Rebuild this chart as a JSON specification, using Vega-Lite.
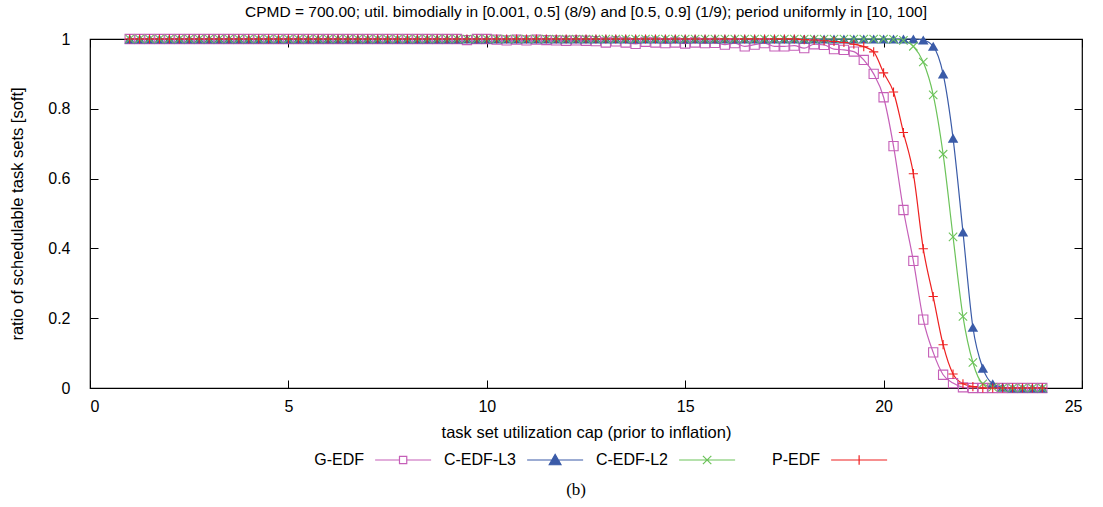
{
  "$schema": "https://vega.github.io/schema/vega-lite/v6.json",
  "autosize": {"type": "none"},
  "padding": {"left": 90, "top": 39, "right": 21, "bottom": 119},
  "width": 992,
  "height": 349,
  "title": {
    "text": "CPMD = 700.00; util. bimodially in [0.001, 0.5] (8/9) and [0.5, 0.9] (1/9); period uniformly in [10, 100]",
    "font": "Liberation Sans",
    "fontSize": 15.5,
    "fontWeight": "normal",
    "color": "#000000",
    "anchor": "middle",
    "offset": 11
  },
  "config": {
    "view": {"stroke": "#000000", "strokeWidth": 1.2},
    "axis": {
      "grid": false,
      "domain": false,
      "tickColor": "#000000",
      "tickSize": -8,
      "tickWidth": 1,
      "labelFont": "Liberation Sans",
      "labelFontSize": 16,
      "labelColor": "#000000",
      "titleFont": "Liberation Sans",
      "titleFontSize": 16.5,
      "titleFontWeight": "normal",
      "titleColor": "#000000"
    },
    "legend": {
      "labelFont": "Liberation Sans",
      "labelFontSize": 16,
      "labelColor": "#000000",
      "layout": {"bottom": {"anchor": "middle"}}
    }
  },
  "data": {
    "values": [
      {"x": 1, "G-EDF": 1, "C-EDF-L3": 1, "C-EDF-L2": 1, "P-EDF": 1},
      {"x": 1.25, "G-EDF": 1, "C-EDF-L3": 1, "C-EDF-L2": 1, "P-EDF": 1},
      {"x": 1.5, "G-EDF": 1, "C-EDF-L3": 1, "C-EDF-L2": 1, "P-EDF": 1},
      {"x": 1.75, "G-EDF": 1, "C-EDF-L3": 1, "C-EDF-L2": 1, "P-EDF": 1},
      {"x": 2, "G-EDF": 1, "C-EDF-L3": 1, "C-EDF-L2": 1, "P-EDF": 1},
      {"x": 2.25, "G-EDF": 1, "C-EDF-L3": 1, "C-EDF-L2": 1, "P-EDF": 1},
      {"x": 2.5, "G-EDF": 1, "C-EDF-L3": 1, "C-EDF-L2": 1, "P-EDF": 1},
      {"x": 2.75, "G-EDF": 1, "C-EDF-L3": 1, "C-EDF-L2": 1, "P-EDF": 1},
      {"x": 3, "G-EDF": 1, "C-EDF-L3": 1, "C-EDF-L2": 1, "P-EDF": 1},
      {"x": 3.25, "G-EDF": 1, "C-EDF-L3": 1, "C-EDF-L2": 1, "P-EDF": 1},
      {"x": 3.5, "G-EDF": 1, "C-EDF-L3": 1, "C-EDF-L2": 1, "P-EDF": 1},
      {"x": 3.75, "G-EDF": 1, "C-EDF-L3": 1, "C-EDF-L2": 1, "P-EDF": 1},
      {"x": 4, "G-EDF": 1, "C-EDF-L3": 1, "C-EDF-L2": 1, "P-EDF": 1},
      {"x": 4.25, "G-EDF": 1, "C-EDF-L3": 1, "C-EDF-L2": 1, "P-EDF": 1},
      {"x": 4.5, "G-EDF": 1, "C-EDF-L3": 1, "C-EDF-L2": 1, "P-EDF": 1},
      {"x": 4.75, "G-EDF": 1, "C-EDF-L3": 1, "C-EDF-L2": 1, "P-EDF": 1},
      {"x": 5, "G-EDF": 1, "C-EDF-L3": 1, "C-EDF-L2": 1, "P-EDF": 1},
      {"x": 5.25, "G-EDF": 1, "C-EDF-L3": 1, "C-EDF-L2": 1, "P-EDF": 1},
      {"x": 5.5, "G-EDF": 1, "C-EDF-L3": 1, "C-EDF-L2": 1, "P-EDF": 1},
      {"x": 5.75, "G-EDF": 1, "C-EDF-L3": 1, "C-EDF-L2": 1, "P-EDF": 1},
      {"x": 6, "G-EDF": 1, "C-EDF-L3": 1, "C-EDF-L2": 1, "P-EDF": 1},
      {"x": 6.25, "G-EDF": 1, "C-EDF-L3": 1, "C-EDF-L2": 1, "P-EDF": 1},
      {"x": 6.5, "G-EDF": 1, "C-EDF-L3": 1, "C-EDF-L2": 1, "P-EDF": 1},
      {"x": 6.75, "G-EDF": 1, "C-EDF-L3": 1, "C-EDF-L2": 1, "P-EDF": 1},
      {"x": 7, "G-EDF": 1, "C-EDF-L3": 1, "C-EDF-L2": 1, "P-EDF": 1},
      {"x": 7.25, "G-EDF": 1, "C-EDF-L3": 1, "C-EDF-L2": 1, "P-EDF": 1},
      {"x": 7.5, "G-EDF": 1, "C-EDF-L3": 1, "C-EDF-L2": 1, "P-EDF": 1},
      {"x": 7.75, "G-EDF": 1, "C-EDF-L3": 1, "C-EDF-L2": 1, "P-EDF": 1},
      {"x": 8, "G-EDF": 1, "C-EDF-L3": 1, "C-EDF-L2": 1, "P-EDF": 1},
      {"x": 8.25, "G-EDF": 1, "C-EDF-L3": 1, "C-EDF-L2": 1, "P-EDF": 1},
      {"x": 8.5, "G-EDF": 1, "C-EDF-L3": 1, "C-EDF-L2": 1, "P-EDF": 1},
      {"x": 8.75, "G-EDF": 1, "C-EDF-L3": 1, "C-EDF-L2": 1, "P-EDF": 1},
      {"x": 9, "G-EDF": 1, "C-EDF-L3": 1, "C-EDF-L2": 1, "P-EDF": 1},
      {"x": 9.25, "G-EDF": 1, "C-EDF-L3": 1, "C-EDF-L2": 1, "P-EDF": 1},
      {"x": 9.5, "G-EDF": 0.997, "C-EDF-L3": 1, "C-EDF-L2": 1, "P-EDF": 1},
      {"x": 9.75, "G-EDF": 1, "C-EDF-L3": 1, "C-EDF-L2": 1, "P-EDF": 1},
      {"x": 10, "G-EDF": 1, "C-EDF-L3": 1, "C-EDF-L2": 1, "P-EDF": 1},
      {"x": 10.25, "G-EDF": 0.998, "C-EDF-L3": 1, "C-EDF-L2": 1, "P-EDF": 1},
      {"x": 10.5, "G-EDF": 0.996, "C-EDF-L3": 1, "C-EDF-L2": 1, "P-EDF": 1},
      {"x": 10.75, "G-EDF": 0.998, "C-EDF-L3": 1, "C-EDF-L2": 1, "P-EDF": 1},
      {"x": 11, "G-EDF": 0.996, "C-EDF-L3": 1, "C-EDF-L2": 1, "P-EDF": 1},
      {"x": 11.25, "G-EDF": 0.998, "C-EDF-L3": 1, "C-EDF-L2": 1, "P-EDF": 1},
      {"x": 11.5, "G-EDF": 0.997, "C-EDF-L3": 1, "C-EDF-L2": 1, "P-EDF": 1},
      {"x": 11.75, "G-EDF": 0.996, "C-EDF-L3": 1, "C-EDF-L2": 1, "P-EDF": 1},
      {"x": 12, "G-EDF": 0.995, "C-EDF-L3": 1, "C-EDF-L2": 1, "P-EDF": 1},
      {"x": 12.25, "G-EDF": 0.996, "C-EDF-L3": 1, "C-EDF-L2": 1, "P-EDF": 1},
      {"x": 12.5, "G-EDF": 0.995, "C-EDF-L3": 1, "C-EDF-L2": 1, "P-EDF": 1},
      {"x": 12.75, "G-EDF": 0.994, "C-EDF-L3": 1, "C-EDF-L2": 1, "P-EDF": 1},
      {"x": 13, "G-EDF": 0.99, "C-EDF-L3": 1, "C-EDF-L2": 1, "P-EDF": 1},
      {"x": 13.25, "G-EDF": 0.993, "C-EDF-L3": 1, "C-EDF-L2": 1, "P-EDF": 1},
      {"x": 13.5, "G-EDF": 0.99, "C-EDF-L3": 1, "C-EDF-L2": 1, "P-EDF": 1},
      {"x": 13.75, "G-EDF": 0.986, "C-EDF-L3": 1, "C-EDF-L2": 1, "P-EDF": 1},
      {"x": 14, "G-EDF": 0.992, "C-EDF-L3": 1, "C-EDF-L2": 1, "P-EDF": 1},
      {"x": 14.25, "G-EDF": 0.99, "C-EDF-L3": 1, "C-EDF-L2": 1, "P-EDF": 1},
      {"x": 14.5, "G-EDF": 0.988, "C-EDF-L3": 1, "C-EDF-L2": 1, "P-EDF": 1},
      {"x": 14.75, "G-EDF": 0.99, "C-EDF-L3": 1, "C-EDF-L2": 1, "P-EDF": 1},
      {"x": 15, "G-EDF": 0.987, "C-EDF-L3": 1, "C-EDF-L2": 1, "P-EDF": 1},
      {"x": 15.25, "G-EDF": 0.99, "C-EDF-L3": 1, "C-EDF-L2": 1, "P-EDF": 1},
      {"x": 15.5, "G-EDF": 0.988, "C-EDF-L3": 1, "C-EDF-L2": 1, "P-EDF": 1},
      {"x": 15.75, "G-EDF": 0.989, "C-EDF-L3": 1, "C-EDF-L2": 1, "P-EDF": 1},
      {"x": 16, "G-EDF": 0.984, "C-EDF-L3": 1, "C-EDF-L2": 1, "P-EDF": 1},
      {"x": 16.25, "G-EDF": 0.988, "C-EDF-L3": 1, "C-EDF-L2": 1, "P-EDF": 1},
      {"x": 16.5, "G-EDF": 0.979, "C-EDF-L3": 1, "C-EDF-L2": 1, "P-EDF": 1},
      {"x": 16.75, "G-EDF": 0.984, "C-EDF-L3": 1, "C-EDF-L2": 1, "P-EDF": 1},
      {"x": 17, "G-EDF": 0.988, "C-EDF-L3": 1, "C-EDF-L2": 1, "P-EDF": 1},
      {"x": 17.25, "G-EDF": 0.979, "C-EDF-L3": 1, "C-EDF-L2": 1, "P-EDF": 1},
      {"x": 17.5, "G-EDF": 0.979, "C-EDF-L3": 1, "C-EDF-L2": 1, "P-EDF": 1},
      {"x": 17.75, "G-EDF": 0.981, "C-EDF-L3": 1, "C-EDF-L2": 1, "P-EDF": 1},
      {"x": 18, "G-EDF": 0.974, "C-EDF-L3": 1, "C-EDF-L2": 1, "P-EDF": 0.998},
      {"x": 18.25, "G-EDF": 0.985, "C-EDF-L3": 1, "C-EDF-L2": 1, "P-EDF": 0.997},
      {"x": 18.5, "G-EDF": 0.983, "C-EDF-L3": 1, "C-EDF-L2": 1, "P-EDF": 0.995},
      {"x": 18.75, "G-EDF": 0.971, "C-EDF-L3": 1, "C-EDF-L2": 1, "P-EDF": 0.993},
      {"x": 19, "G-EDF": 0.969, "C-EDF-L3": 1, "C-EDF-L2": 1, "P-EDF": 0.99},
      {"x": 19.25, "G-EDF": 0.964, "C-EDF-L3": 1, "C-EDF-L2": 1, "P-EDF": 0.985},
      {"x": 19.5, "G-EDF": 0.94, "C-EDF-L3": 1, "C-EDF-L2": 1, "P-EDF": 0.978},
      {"x": 19.75, "G-EDF": 0.9, "C-EDF-L3": 1, "C-EDF-L2": 1, "P-EDF": 0.963},
      {"x": 20, "G-EDF": 0.833, "C-EDF-L3": 1, "C-EDF-L2": 1, "P-EDF": 0.903},
      {"x": 20.25, "G-EDF": 0.693, "C-EDF-L3": 1, "C-EDF-L2": 0.999, "P-EDF": 0.848},
      {"x": 20.5, "G-EDF": 0.51, "C-EDF-L3": 1, "C-EDF-L2": 0.996, "P-EDF": 0.732},
      {"x": 20.75, "G-EDF": 0.364, "C-EDF-L3": 1, "C-EDF-L2": 0.979, "P-EDF": 0.614},
      {"x": 21, "G-EDF": 0.196, "C-EDF-L3": 0.997, "C-EDF-L2": 0.934, "P-EDF": 0.399},
      {"x": 21.25, "G-EDF": 0.102, "C-EDF-L3": 0.979, "C-EDF-L2": 0.84, "P-EDF": 0.262},
      {"x": 21.5, "G-EDF": 0.038, "C-EDF-L3": 0.9, "C-EDF-L2": 0.67, "P-EDF": 0.124},
      {"x": 21.75, "G-EDF": 0.014, "C-EDF-L3": 0.716, "C-EDF-L2": 0.433, "P-EDF": 0.04},
      {"x": 22, "G-EDF": 0.002, "C-EDF-L3": 0.447, "C-EDF-L2": 0.205, "P-EDF": 0.012},
      {"x": 22.25, "G-EDF": 0, "C-EDF-L3": 0.174, "C-EDF-L2": 0.073, "P-EDF": 0.004},
      {"x": 22.5, "G-EDF": 0, "C-EDF-L3": 0.057, "C-EDF-L2": 0.012, "P-EDF": 0},
      {"x": 22.75, "G-EDF": 0, "C-EDF-L3": 0.012, "C-EDF-L2": 0.002, "P-EDF": 0},
      {"x": 23, "G-EDF": 0, "C-EDF-L3": 0.002, "C-EDF-L2": 0, "P-EDF": 0},
      {"x": 23.25, "G-EDF": 0, "C-EDF-L3": 0, "C-EDF-L2": 0, "P-EDF": 0},
      {"x": 23.5, "G-EDF": 0, "C-EDF-L3": 0, "C-EDF-L2": 0, "P-EDF": 0},
      {"x": 23.75, "G-EDF": 0, "C-EDF-L3": 0, "C-EDF-L2": 0, "P-EDF": 0},
      {"x": 24, "G-EDF": 0, "C-EDF-L3": 0, "C-EDF-L2": 0, "P-EDF": 0}
    ]
  },
  "transform": [
    {"fold": ["G-EDF", "C-EDF-L3", "C-EDF-L2", "P-EDF"], "as": ["series", "ratio"]}
  ],
  "resolve": {"axis": {"x": "independent", "y": "independent"}},
  "layer": [
    {
      "mark": {"type": "line", "interpolate": "monotone", "strokeWidth": 1.2},
      "encoding": {
        "x": {
          "field": "x", "type": "quantitative",
          "scale": {"domain": [0, 25], "nice": false},
          "axis": {"orient": "bottom", "values": [0, 5, 10, 15, 20, 25], "title": "task set utilization cap (prior to inflation)", "labelPadding": 18, "titlePadding": 10}
        },
        "y": {
          "field": "ratio", "type": "quantitative",
          "scale": {"domain": [0, 1], "nice": false},
          "axis": {"orient": "left", "values": [0, 0.2, 0.4, 0.6, 0.8, 1], "format": "~g", "title": "ratio of schedulable task sets [soft]", "labelPadding": 28, "titlePadding": 22}
        },
        "color": {
          "field": "series", "type": "nominal",
          "scale": {"domain": ["G-EDF", "C-EDF-L3", "C-EDF-L2", "P-EDF"], "range": ["#c55fb8", "#3a5ba8", "#6cc35a", "#ee2020"]},
          "legend": {
            "orient": "bottom",
            "direction": "horizontal",
            "title": "(b)",
            "titleOrient": "bottom",
            "titleAnchor": "middle",
            "titleAlign": "right",
            "titleFont": "Liberation Serif",
            "titleFontSize": 17,
            "titleFontWeight": "normal",
            "titleColor": "#000000",
            "titlePadding": 14,
            "symbolSize": 3136,
            "symbolStrokeWidth": 1.2,
            "gridAlign": "all",
            "columnPadding": 0,
            "labelAlign": "right",
            "labelOffset": 24,
            "offset": -10,
            "encode": {
              "symbols": {
                "update": {
                  "shape": {"signal": "datum.value === 'G-EDF' ? 'M2.29,0H3.16M3.42,0H4.29M3.16,-0.13H3.42V0.13H3.16Z' : datum.value === 'C-EDF-L3' ? 'M2.29,0H4.29M3.29,-0.2L3.5,0.17H3.08Z' : datum.value === 'C-EDF-L2' ? 'M2.29,0H4.29M3.14,-0.15L3.44,0.15M3.14,0.15L3.44,-0.15' : 'M2.29,0H4.29M3.29,-0.17V0.17'"},
                  "fill": {"signal": "datum.value === 'C-EDF-L3' ? '#3a5ba8' : 'transparent'"},
                  "strokeWidth": {"value": 1.2}
                }
              }
            }
          }
        }
      }
    },
    {
      "transform": [{"filter": "datum.series === 'G-EDF'"}],
      "mark": {"type": "point", "shape": "square", "filled": false, "size": 85, "strokeWidth": 1.1, "opacity": 1, "color": "#c55fb8"},
      "encoding": {
        "x": {"field": "x", "type": "quantitative", "axis": null},
        "y": {"field": "ratio", "type": "quantitative", "axis": null}
      }
    },
    {
      "transform": [{"filter": "datum.series === 'C-EDF-L3'"}],
      "mark": {"type": "point", "shape": "triangle-up", "filled": true, "size": 110, "opacity": 1, "color": "#3a5ba8"},
      "encoding": {
        "x": {"field": "x", "type": "quantitative", "axis": null},
        "y": {"field": "ratio", "type": "quantitative", "axis": null}
      }
    },
    {
      "transform": [{"filter": "datum.series === 'C-EDF-L2'"}],
      "mark": {"type": "point", "shape": "M-1,-1L1,1M-1,1L1,-1", "filled": false, "size": 70, "strokeWidth": 1.1, "opacity": 1, "color": "#6cc35a"},
      "encoding": {
        "x": {"field": "x", "type": "quantitative", "axis": null},
        "y": {"field": "ratio", "type": "quantitative", "axis": null}
      }
    },
    {
      "transform": [{"filter": "datum.series === 'P-EDF'"}],
      "mark": {"type": "point", "shape": "M-1,0H1M0,-1V1", "filled": false, "size": 85, "strokeWidth": 1.1, "opacity": 1, "color": "#ee2020"},
      "encoding": {
        "x": {"field": "x", "type": "quantitative", "axis": null},
        "y": {"field": "ratio", "type": "quantitative", "axis": null}
      }
    },
    {
      "mark": {"type": "point", "opacity": 0},
      "encoding": {
        "x": {"field": "x", "type": "quantitative", "axis": {"orient": "top", "values": [0, 5, 10, 15, 20, 25], "labels": false, "title": null}},
        "y": {"field": "ratio", "type": "quantitative", "axis": {"orient": "right", "values": [0, 0.2, 0.4, 0.6, 0.8, 1], "labels": false, "title": null}}
      }
    }
  ]
}
